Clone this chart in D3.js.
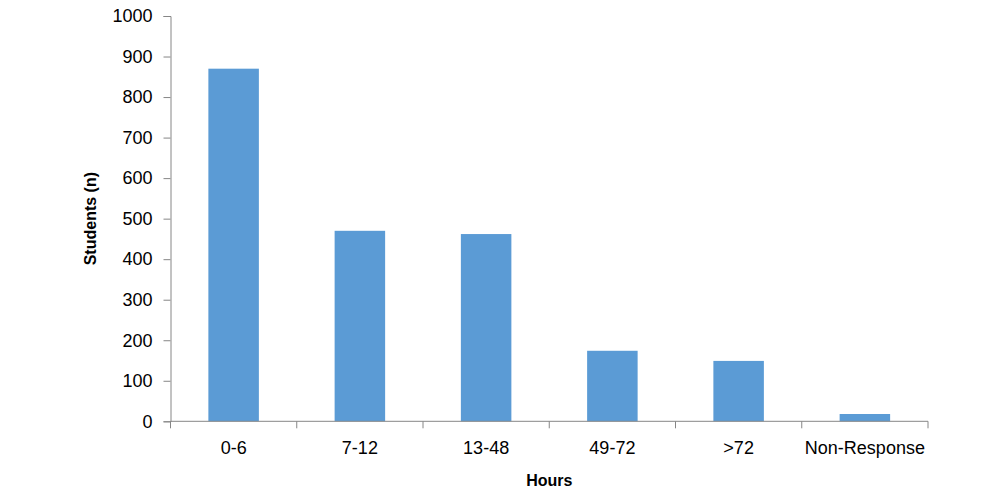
<!DOCTYPE html>
<html><head><meta charset="utf-8">
<script src="https://cdn.jsdelivr.net/npm/d3@7"></script>
<style>body{margin:0;background:#fff}svg{display:block}</style>
</head><body><svg id="c" width="1000" height="493"></svg>
<script>
const categories = ["0-6","7-12","13-48","49-72",">72","Non-Response"];
const students = [870,470,462,174,149,18];
const yTicks = [0,100,200,300,400,500,600,700,800,900,1000];
const xTitle = "Hours";
const yTitle = "Students (n)";

const svg = d3.select("#c");
const mLeft = 170.5, mRight = 928, mTop = 16, mBottom = 421.3;
const font = "'Liberation Sans', Arial, sans-serif";
const axisColor = "#868686";

const x = d3.scaleBand().domain(categories).range([mLeft, mRight]).paddingInner(0.6).paddingOuter(0.3);
const y = d3.scaleLinear().domain([0,1000]).range([mBottom, mTop]);

svg.selectAll("rect.bar").data(students).join("rect")
  .attr("class","bar")
  .attr("x",(d,i)=>x(categories[i]))
  .attr("y",d=>y(d))
  .attr("width",x.bandwidth())
  .attr("height",d=>y(0)-y(d))
  .attr("fill","#5B9BD5");

// y axis
const ya = svg.append("g").attr("transform",`translate(${mLeft},0)`)
  .call(d3.axisLeft(y).tickValues(yTicks).tickSize(7).tickPadding(11).tickFormat(d3.format("d")));
ya.select(".domain").attr("stroke",axisColor);
ya.selectAll(".tick line").attr("stroke",axisColor);
ya.selectAll(".tick text").attr("font-family",font).attr("font-size",18).attr("fill","#000");

// x axis
const xa = svg.append("g").attr("transform",`translate(0,${mBottom})`)
  .call(d3.axisBottom(x).tickSize(0).tickPadding(20));
xa.select(".domain").attr("stroke",axisColor).attr("d",`M${mLeft},0H${mRight}`);
xa.selectAll(".tick text").attr("font-family",font).attr("font-size",18).attr("fill","#000");
const bounds = d3.range(categories.length+1).map(i=>mLeft + i*(mRight-mLeft)/categories.length);
xa.selectAll("line.bt").data(bounds).join("line").attr("class","bt")
  .attr("x1",d=>d).attr("x2",d=>d).attr("y1",0).attr("y2",7).attr("stroke",axisColor);

svg.append("text").attr("x",(mLeft+mRight)/2).attr("y",486).attr("text-anchor","middle")
  .attr("font-family",font).attr("font-weight","bold").attr("font-size",16).text(xTitle);
svg.append("text").attr("transform",`translate(96,${(mTop+mBottom)/2}) rotate(-90)`)
  .attr("text-anchor","middle").attr("font-family",font).attr("font-weight","bold").attr("font-size",16).text(yTitle);
</script></body></html>
